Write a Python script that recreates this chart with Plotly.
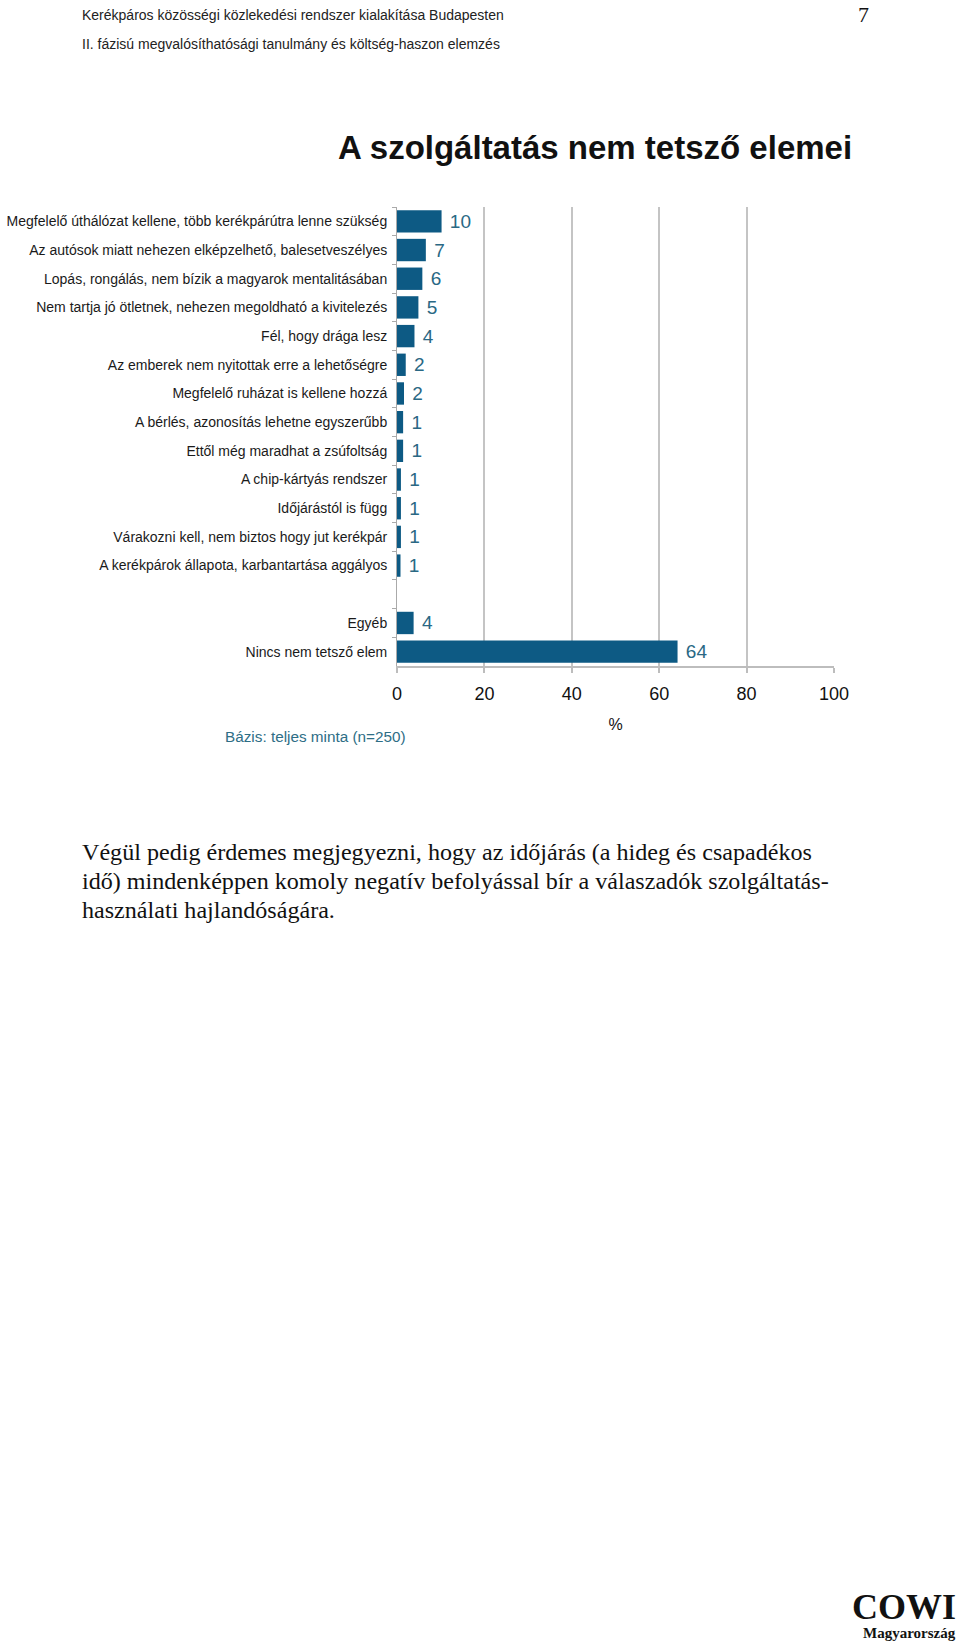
import plotly.graph_objects as go

# ---- data ----
categories = [
    "Megfelelő úthálózat kellene, több kerékpárútra lenne szükség",
    "Az autósok miatt nehezen elképzelhető, balesetveszélyes",
    "Lopás, rongálás, nem bízik a magyarok mentalitásában",
    "Nem tartja jó ötletnek, nehezen megoldható a kivitelezés",
    "Fél, hogy drága lesz",
    "Az emberek nem nyitottak erre a lehetőségre",
    "Megfelelő ruházat is kellene hozzá",
    "A bérlés, azonosítás lehetne egyszerűbb",
    "Ettől még maradhat a zsúfoltság",
    "A chip-kártyás rendszer",
    "Időjárástól is függ",
    "Várakozni kell, nem biztos hogy jut kerékpár",
    "A kerékpárok állapota, karbantartása aggályos",
    " ",
    "Egyéb",
    "Nincs nem tetsző elem",
]
values = [10.2, 6.6, 5.8, 4.9, 4.0, 2.0, 1.6, 1.4, 1.4, 0.9, 0.9, 0.9, 0.8, None, 3.8, 64.2]
x_ticks = [0, 20, 40, 60, 80, 100]

header_lines = [
    "Kerékpáros közösségi közlekedési rendszer kialakítása Budapesten",
    "II. fázisú megvalósíthatósági tanulmány és költség-haszon elemzés",
]
page_number = "7"
chart_title = "A szolgáltatás nem tetsző elemei"
base_note = "Bázis: teljes minta (n=250)"
paragraph_lines = [
    "Végül pedig érdemes megjegyezni, hogy az időjárás (a hideg és csapadékos",
    "idő) mindenképpen komoly negatív befolyással bír a válaszadók szolgáltatás-",
    "használati hajlandóságára.",
]

W, H = 960, 1645
BAR = "#0D5A84"
LABEL = "#2A6884"
SANS = "Liberation Sans, Arial, sans-serif"
SERIF = "Liberation Serif, Times New Roman, serif"


def py(px):
    return 1 - px / H


fig = go.Figure()
fig.add_trace(go.Bar(
    x=values, y=categories, orientation="h",
    marker=dict(color=BAR, line=dict(width=0)),
    texttemplate="\u00a0%{x:.0f}", textposition="outside",
    textfont=dict(family=SANS, size=19, color=LABEL),
    cliponaxis=False, hoverinfo="skip",
))

fig.update_layout(
    width=W, height=H,
    margin=dict(l=0, r=0, t=0, b=0, autoexpand=False),
    paper_bgcolor="white", plot_bgcolor="white",
    showlegend=False, bargap=0.22,
    xaxis=dict(
        domain=[397 / W, 834 / W], range=[0, 100], tickvals=x_ticks,
        showgrid=True, gridcolor="#C4C4C4", gridwidth=1.5,
        showline=True, linecolor="#BDBDBD", linewidth=2,
        ticks="outside", ticklen=5, tickcolor="#BDBDBD", tickwidth=1.5,
        zeroline=False, ticklabelstandoff=5,
        tickfont=dict(family=SANS, size=18, color="#111"),
        title=dict(text="%", font=dict(family=SANS, size=16, color="#111"), standoff=16),
    ),
    yaxis=dict(
        domain=[py(666), py(207)], type="category",
        categoryorder="array", categoryarray=categories, autorange="reversed",
        showgrid=False, showline=True, linecolor="#AAAAAA", linewidth=1,
        ticks="outside", ticklen=4, tickcolor="#AAAAAA", tickson="boundaries",
        ticklabelstandoff=6,
        tickfont=dict(family=SANS, size=14, color="#1a1a1a"),
    ),
)

ann = []
for i, t in enumerate(header_lines):
    ann.append(dict(text=t, x=80 / W, y=py([15, 44][i]), xanchor="left", yanchor="middle",
                    font=dict(family=SANS, size=14, color="#222")))
ann.append(dict(text=page_number, x=863 / W, y=py(14), xanchor="center", yanchor="middle",
                font=dict(family=SERIF, size=22, color="#111")))
ann.append(dict(text="<b>" + chart_title + "</b>", x=595 / W, y=py(147), xanchor="center",
                yanchor="middle", font=dict(family=SANS, size=33, color="#111")))
ann.append(dict(text=base_note, x=223 / W, y=py(736), xanchor="left", yanchor="middle",
                font=dict(family=SANS, size=15.3, color="#2E6E86")))
for i, t in enumerate(paragraph_lines):
    ann.append(dict(text=t, x=80 / W, y=py(852 + 29 * i), xanchor="left", yanchor="middle",
                    font=dict(family=SERIF, size=24.1, color="#111")))
ann.append(dict(text="<b>COWI</b>", x=958 / W, y=py(1607), xanchor="right", yanchor="middle",
                font=dict(family=SERIF, size=36, color="#111")))
ann.append(dict(text="<b>Magyarország</b>", x=958 / W, y=py(1633), xanchor="right", yanchor="middle",
                font=dict(family=SERIF, size=15, color="#111")))
for a in ann:
    a.update(xref="paper", yref="paper", showarrow=False)
fig.update_layout(annotations=ann)

fig.write_html("out.html")
